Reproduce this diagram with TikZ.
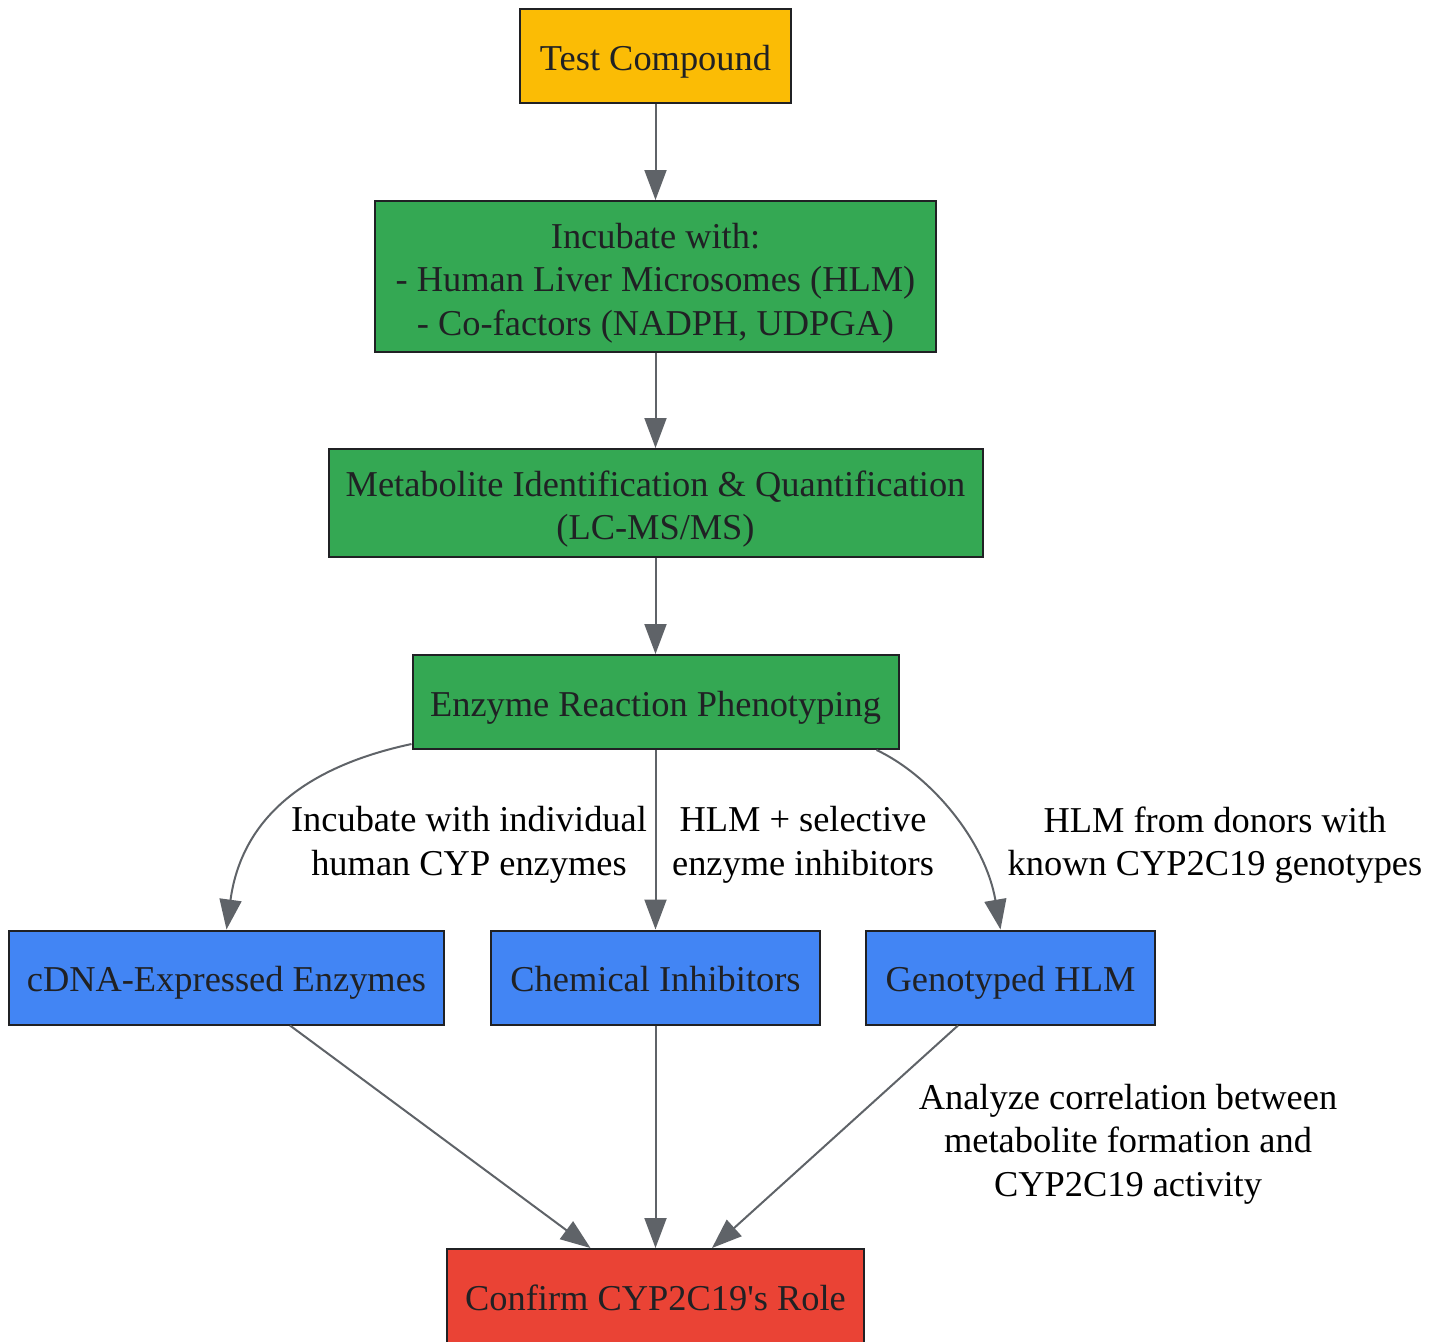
\documentclass[tikz,border=0pt]{standalone}
\usepackage{fontspec}
\setmainfont{Liberation Serif}
\usetikzlibrary{arrows.meta}
\definecolor{gyellow}{HTML}{FBBC05}
\definecolor{ggreen}{HTML}{34A853}
\definecolor{gblue}{HTML}{4285F4}
\definecolor{gred}{HTML}{EA4335}
\definecolor{gline}{HTML}{5F6368}
\definecolor{gdark}{HTML}{202124}
\newcommand{\vstrut}{\rule[-5pt]{0pt}{24pt}}
\tikzset{
  stepbox/.style={draw=gdark, line width=1pt, text=gdark, align=center,
    inner sep=0pt, minimum height=47pt},
  flow/.style={draw=gline, line width=1pt,
    -{Triangle[length=15pt,width=11pt]}},
  lbl/.style={align=center, text=black}
}
\begin{document}
\begin{tikzpicture}[x=0.5pt, y=-0.5pt, font=\fontsize{18.2}{21.75}\selectfont]
    \useasboundingbox (0,0) rectangle (1442,1341);

    % main steps
    \node[stepbox, fill=gyellow, minimum width=135.5pt] (cmpd) at (655.5,56) {\vstrut Test Compound};
    \node[stepbox, fill=ggreen, minimum width=280.5pt, minimum height=75.5pt] (incub) at (655.5,276.5)
        {\vstrut Incubate with:\\- Human Liver Microsomes (HLM)\\- Co-factors (NADPH, UDPGA)};
    \node[stepbox, fill=ggreen, minimum width=327pt, minimum height=54pt] (metab) at (655.5,503)
        {\vstrut Metabolite Identification \& Quantification\\(LC-MS/MS)};
    \node[stepbox, fill=ggreen, minimum width=243pt] (enz) at (655.5,702) {\vstrut Enzyme Reaction Phenotyping};

    % three approaches
    \node[stepbox, fill=gblue, minimum width=217.5pt] (cdna) at (226.5,977.5) {\vstrut cDNA-Expressed Enzymes};
    \node[stepbox, fill=gblue, minimum width=164.5pt] (chem) at (655.5,977.5) {\vstrut Chemical Inhibitors};
    \node[stepbox, fill=gblue, minimum width=144.5pt] (geno) at (1010.5,977.5) {\vstrut Genotyped HLM};

    % result
    \node[stepbox, fill=gred, minimum width=208.5pt] (conf) at (655.5,1296) {\vstrut Confirm CYP2C19\textquotesingle s Role};

    \draw[flow] (cmpd) -- (incub);
    \draw[flow] (incub) -- (metab);
    \draw[flow] (metab) -- (enz);

    \draw[flow] ([yshift=3pt]enz.south west) .. controls (290,770) and (240,830) .. (cdna.north);
    \draw[flow] (enz) -- (chem);
    \draw[flow] ([xshift=-11.5pt]enz.south east) .. controls (930,775) and (985,840) .. ([xshift=-5pt]geno.north);

    \node[lbl] (l1) at (469,845) {Incubate with individual\\human CYP enzymes};
    \node[lbl] (l2) at (803,845) {HLM + selective\\enzyme inhibitors};
    \node[lbl] (l3) at (1215,845) {HLM from donors with\\known CYP2C19 genotypes};

    \draw[flow] ([xshift=31.75pt]cdna.south) -- ([xshift=-32.5pt]conf.north);
    \draw[flow] (chem) -- (conf);
    \draw[flow] ([xshift=-26.25pt]geno.south) -- ([xshift=28.25pt]conf.north);

    \node[lbl] (l4) at (1128,1144) {Analyze correlation between\\metabolite formation and\\CYP2C19 activity};
\end{tikzpicture}
\end{document}
